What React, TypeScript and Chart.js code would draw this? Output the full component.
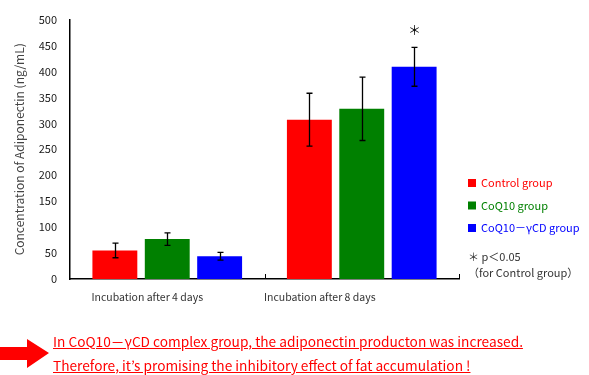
import React, { useEffect, useRef } from "react";
import { Chart, registerables } from "chart.js";

Chart.register(...registerables);

const categories = ["Incubation after 4 days", "Incubation after 8 days"];
const seriesNames = ["Control group", "CoQ10 group", "CoQ10\uFF0D\u03B3CD group"];
const seriesColors = ["#ff0000", "#008000", "#0000ff"];
const controlValues = [55, 307];
const coq10Values = [77, 328];
const complexValues = [44, 409];
const controlErrors = [14, 51];
const coq10Errors = [12, 61];
const complexErrors = [7.5, 37.5];
const complexSignificance = ["", "\uFF0A"];
const yTicks = [0, 50, 100, 150, 200, 250, 300, 350, 400, 450, 500];
const noteLines = ["\uFF0A p\uFF1C0.05", "\uFF08for Control group\uFF09"];
const messageLines = [
  "In CoQ10\uFF0D\u03B3CD complex group, the adiponectin producton was increased.",
  "Therefore, it\u2019s promising the inhibitory effect of fat accumulation !",
];

const FONT = "'Noto Sans CJK JP', 'Noto Sans', sans-serif";

const errorArrays = [controlErrors, coq10Errors, complexErrors];
const labelOffsets = [-20, -42];

const overlayPlugin = {
  id: "overlay",
  afterDatasetsDraw(chart: any) {
    const ctx = chart.ctx;
    const yScale = chart.scales.y;
    const xScale = chart.scales.x;
    const area = chart.chartArea;
    ctx.save();
    // error bars
    ctx.strokeStyle = "#000";
    ctx.lineWidth = 1.3;
    chart.data.datasets.forEach((ds: any, di: number) => {
      const meta = chart.getDatasetMeta(di);
      meta.data.forEach((bar: any, i: number) => {
        const v = ds.data[i];
        const e = errorArrays[di][i];
        const x = Math.round(bar.x) + 0.5;
        const yTop = yScale.getPixelForValue(v + e);
        const yBot = yScale.getPixelForValue(v - e);
        ctx.beginPath();
        ctx.moveTo(x, yTop);
        ctx.lineTo(x, yBot);
        ctx.moveTo(x - 3, yTop);
        ctx.lineTo(x + 3, yTop);
        ctx.moveTo(x - 3, yBot);
        ctx.lineTo(x + 3, yBot);
        ctx.stroke();
        if (di === 2 && complexSignificance[i]) {
          ctx.fillStyle = "#000";
          ctx.font = `13px ${FONT}`;
          ctx.textAlign = "center";
          ctx.textBaseline = "middle";
          ctx.fillText(complexSignificance[i], x, yTop - 17);
        }
      });
    });
    // inner tick marks on x axis
    ctx.lineWidth = 1;
    const n = categories.length;
    for (let i = 0; i < n; i++) {
      const bx =
        i < n - 1
          ? (xScale.getPixelForValue(i) + xScale.getPixelForValue(i + 1)) / 2
          : area.right;
      const px = Math.round(bx) + 0.5;
      ctx.beginPath();
      ctx.moveTo(px, area.bottom);
      ctx.lineTo(px, area.bottom - 5);
      ctx.stroke();
    }
    // category labels
    ctx.fillStyle = "#333";
    ctx.font = `10.5px ${FONT}`;
    ctx.textAlign = "center";
    ctx.textBaseline = "middle";
    categories.forEach((c, i) => {
      ctx.fillText(c, xScale.getPixelForValue(i) + labelOffsets[i], area.bottom + 18);
    });
    // legend
    ctx.textAlign = "left";
    ctx.font = `11px ${FONT}`;
    const lx = area.right + 9;
    seriesNames.forEach((name, i) => {
      const cy = 183 + i * 22.5;
      ctx.fillStyle = seriesColors[i];
      ctx.fillRect(lx, cy - 4, 8, 8);
      ctx.fillText(name, lx + 13, cy);
    });
    ctx.fillStyle = "#333";
    noteLines.forEach((t, i) => {
      ctx.fillText(t, lx, 257 + i * 16);
    });
    ctx.restore();
  },
};

export default function App() {
  const ref = useRef<HTMLCanvasElement>(null);
  useEffect(() => {
    const chart = new Chart(ref.current as HTMLCanvasElement, {
      type: "bar",
      data: {
        labels: categories,
        datasets: [
          { label: seriesNames[0], data: controlValues, backgroundColor: seriesColors[0] },
          { label: seriesNames[1], data: coq10Values, backgroundColor: seriesColors[1] },
          { label: seriesNames[2], data: complexValues, backgroundColor: seriesColors[2] },
        ],
      },
      options: {
        animation: false,
        responsive: false,
        maintainAspectRatio: false,
        layout: { padding: { left: 8, top: 4, right: 130, bottom: 0 } },
        plugins: { legend: { display: false }, tooltip: { enabled: false } },
        datasets: { bar: { categoryPercentage: 0.808, barPercentage: 0.857 } },
        scales: {
          x: {
            grid: { display: false, drawTicks: false },
            border: { display: true, color: "#000", width: 1.5 },
            ticks: { display: false },
            afterFit: (s: any) => {
              s.height = 96;
            },
          },
          y: {
            min: 0,
            max: 500,
            afterBuildTicks: (s: any) => {
              s.ticks = yTicks.map((v) => ({ value: v }));
            },
            grid: { display: false, drawTicks: false },
            border: { display: true, color: "#000", width: 1.5 },
            ticks: {
              padding: 13,
              color: "#1a1a1a",
              font: { family: FONT, size: 11 },
            },
            title: {
              display: true,
              text: "Concentration of Adiponectin (ng/mL)",
              color: "#444",
              font: { family: FONT, size: 12 },
            },
            afterFit: (s: any) => {
              s.width = 62;
            },
          },
        },
      },
      plugins: [overlayPlugin],
    });
    return () => chart.destroy();
  }, []);

  return (
    <div style={{ position: "fixed", left: 0, top: 0, width: 589, height: 375, background: "#fff" }}>
      <canvas ref={ref} width={589} height={375} style={{ position: "absolute", left: 0, top: 0 }} />
      <svg width={60} height={40} style={{ position: "absolute", left: 0, top: 335 }}>
        <polygon points="0,12 27,12 27,4 49,18 27,33 27,25 0,25" fill="#ff0000" />
      </svg>
      {messageLines.map((t, i) => (
        <div
          key={i}
          style={{
            position: "absolute",
            left: 53,
            top: 333 + i * 24,
            color: "#ff0000",
            fontFamily: FONT,
            fontSize: 13.7,
            lineHeight: "17px",
            whiteSpace: "nowrap",
            textDecoration: "underline",
          }}
        >
          {t}
        </div>
      ))}
    </div>
  );
}
